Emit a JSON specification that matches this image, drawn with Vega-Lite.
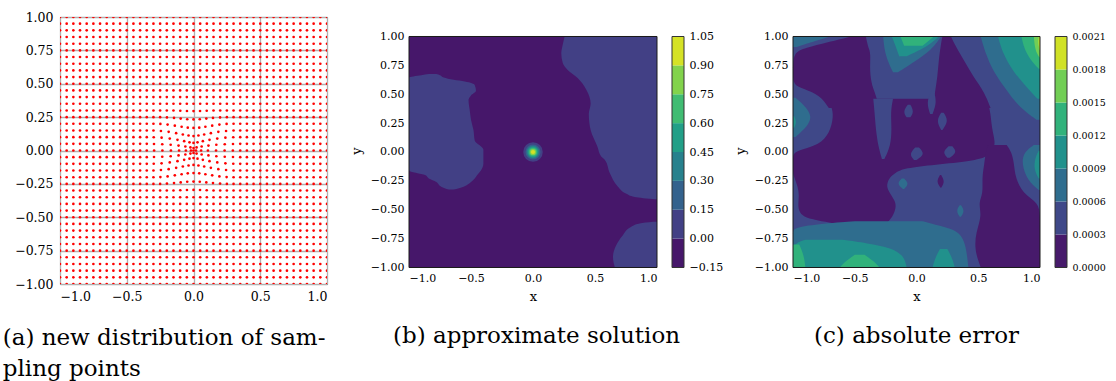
{
"$schema": "https://vega.github.io/schema/vega-lite/v6.json",
"background": "white",
"padding": {"left": 2, "top": 10, "right": 5, "bottom": 0},
"config": {
 "font": "DejaVu Serif",
 "view": {"stroke": "#1a1a1a", "strokeWidth": 1},
 "axis": {"labelFont": "DejaVu Serif", "titleFont": "DejaVu Serif", "labelColor": "#000", "titleColor": "#000", "titleFontWeight": "normal", "titleFontSize": 13, "labelFontSize": 11, "labelPadding": 5, "ticks": false, "domain": false, "grid": false},
 "title": {"font": "DejaVu Serif", "fontSize": 23, "fontWeight": "normal", "color": "#000"}
},
"spacing": 15, "bounds": "flush",
"resolve": {"scale": {"color": "independent"}},
"hconcat": [
 {
  "width": 267, "height": 267,
  "title": {"text": ["(a) new distribution of sam-", "pling points"], "orient": "bottom", "anchor": "start", "frame": "bounds", "dx": -12, "offset": 24, "lineHeight": 31},
  "encoding": {
   "x": {"field": "x", "type": "quantitative", "scale": {"domain": [-1, 1], "nice": false, "zero": false}, "axis": {"values": [-1, -0.5, 0, 0.5, 1], "format": ".1f", "title": null, "grid": true, "gridColor": "#b0b0b0", "gridWidth": 1.3, "labelFontSize": 12.5, "labelPadding": 6}},
   "y": {"field": "y", "type": "quantitative", "scale": {"domain": [-1, 1], "nice": false, "zero": false}, "axis": {"values": [-1, -0.75, -0.5, -0.25, 0, 0.25, 0.5, 0.75, 1], "format": ".2f", "title": null, "grid": true, "gridColor": "#b0b0b0", "gridWidth": 1.3, "labelFontSize": 12.5, "labelPadding": 7}}
  },
  "layer": [
   {
    "data": {"values": [
     {"y": -1, "x": [-1,-0.95,-0.9,-0.85,-0.8,-0.75,-0.7,-0.65,-0.6,-0.55,-0.5,-0.45,-0.4,-0.35,-0.3,-0.25,-0.2,-0.15,-0.1,-0.05,0,0.05,0.1,0.15,0.2,0.25,0.3,0.35,0.4,0.45,0.5,0.55,0.6,0.65,0.7,0.75,0.8,0.85,0.9,0.95,1]},
     {"y": -0.95, "x": [-1,-0.95,-0.9,-0.85,-0.8,-0.75,-0.7,-0.65,-0.6,-0.55,-0.5,-0.45,-0.4,-0.35,-0.3,-0.25,-0.2,-0.15,-0.1,-0.05,0,0.05,0.1,0.15,0.2,0.25,0.3,0.35,0.4,0.45,0.5,0.55,0.6,0.65,0.7,0.75,0.8,0.85,0.9,0.95,1]},
     {"y": -0.9, "x": [-1,-0.95,-0.9,-0.85,-0.8,-0.75,-0.7,-0.65,-0.6,-0.55,-0.5,-0.45,-0.4,-0.35,-0.3,-0.25,-0.2,-0.15,-0.1,-0.05,0,0.05,0.1,0.15,0.2,0.25,0.3,0.35,0.4,0.45,0.5,0.55,0.6,0.65,0.7,0.75,0.8,0.85,0.9,0.95,1]},
     {"y": -0.85, "x": [-1,-0.95,-0.9,-0.85,-0.8,-0.75,-0.7,-0.65,-0.6,-0.55,-0.5,-0.45,-0.4,-0.35,-0.3,-0.25,-0.2,-0.15,-0.1,-0.05,0,0.05,0.1,0.15,0.2,0.25,0.3,0.35,0.4,0.45,0.5,0.55,0.6,0.65,0.7,0.75,0.8,0.85,0.9,0.95,1]},
     {"y": -0.8, "x": [-1,-0.95,-0.9,-0.85,-0.8,-0.75,-0.7,-0.65,-0.6,-0.55,-0.5,-0.45,-0.4,-0.35,-0.3,-0.25,-0.2,-0.15,-0.1,-0.05,0,0.05,0.1,0.15,0.2,0.25,0.3,0.35,0.4,0.45,0.5,0.55,0.6,0.65,0.7,0.75,0.8,0.85,0.9,0.95,1]},
     {"y": -0.75, "x": [-1,-0.95,-0.9,-0.85,-0.8,-0.75,-0.7,-0.65,-0.6,-0.55,-0.5,-0.45,-0.4,-0.35,-0.3,-0.25,-0.2,-0.15,-0.1,-0.05,0,0.05,0.1,0.15,0.2,0.25,0.3,0.35,0.4,0.45,0.5,0.55,0.6,0.65,0.7,0.75,0.8,0.85,0.9,0.95,1]},
     {"y": -0.7, "x": [-1,-0.95,-0.9,-0.85,-0.8,-0.75,-0.7,-0.65,-0.6,-0.55,-0.5,-0.45,-0.4,-0.35,-0.3,-0.25,-0.2,-0.15,-0.1,-0.05,0,0.05,0.1,0.15,0.2,0.25,0.3,0.35,0.4,0.45,0.5,0.55,0.6,0.65,0.7,0.75,0.8,0.85,0.9,0.95,1]},
     {"y": -0.65, "x": [-1,-0.95,-0.9,-0.85,-0.8,-0.75,-0.7,-0.65,-0.6,-0.55,-0.5,-0.45,-0.4,-0.35,-0.3,-0.25,-0.2,-0.15,-0.1,-0.05,0,0.05,0.1,0.15,0.2,0.25,0.3,0.35,0.4,0.45,0.5,0.55,0.6,0.65,0.7,0.75,0.8,0.85,0.9,0.95,1]},
     {"y": -0.6, "x": [-1,-0.95,-0.9,-0.85,-0.8,-0.75,-0.7,-0.65,-0.6,-0.55,-0.5,-0.45,-0.4,-0.35,-0.3,-0.25,-0.2,-0.15,-0.1,-0.05,0,0.05,0.1,0.15,0.2,0.25,0.3,0.35,0.4,0.45,0.5,0.55,0.6,0.65,0.7,0.75,0.8,0.85,0.9,0.95,1]},
     {"y": -0.55, "x": [-1,-0.95,-0.9,-0.85,-0.8,-0.75,-0.7,-0.65,-0.6,-0.55,-0.5,-0.45,-0.4,-0.35,-0.3,-0.25,-0.2,-0.15,-0.1,-0.05,0,0.05,0.1,0.15,0.2,0.25,0.3,0.35,0.4,0.45,0.5,0.55,0.6,0.65,0.7,0.75,0.8,0.85,0.9,0.95,1]},
     {"y": -0.5, "x": [-1,-0.95,-0.9,-0.85,-0.8,-0.75,-0.7,-0.65,-0.6,-0.55,-0.5,-0.45,-0.4,-0.35,-0.3,-0.25,-0.2,-0.15,-0.1,-0.05,0,0.05,0.1,0.15,0.2,0.25,0.3,0.35,0.4,0.45,0.5,0.55,0.6,0.65,0.7,0.75,0.8,0.85,0.9,0.95,1]},
     {"y": -0.45, "x": [-1,-0.95,-0.9,-0.85,-0.8,-0.75,-0.7,-0.65,-0.6,-0.55,-0.5,-0.45,-0.4,-0.35,-0.3,-0.25,-0.2,-0.15,-0.1,-0.05,0,0.05,0.1,0.15,0.2,0.25,0.3,0.35,0.4,0.45,0.5,0.55,0.6,0.65,0.7,0.75,0.8,0.85,0.9,0.95,1]},
     {"y": -0.4, "x": [-1,-0.95,-0.9,-0.85,-0.8,-0.75,-0.7,-0.65,-0.6,-0.55,-0.5,-0.45,-0.4,-0.35,-0.3,-0.25,-0.2,-0.15,-0.1,-0.05,0,0.05,0.1,0.15,0.2,0.25,0.3,0.35,0.4,0.45,0.5,0.55,0.6,0.65,0.7,0.75,0.8,0.85,0.9,0.95,1]},
     {"y": -0.35, "x": [-1,-0.95,-0.9,-0.85,-0.8,-0.75,-0.7,-0.65,-0.6,-0.55,-0.5,-0.45,-0.4,-0.35,-0.3,-0.25,-0.2,-0.15,-0.1,-0.05,0,0.05,0.1,0.15,0.2,0.25,0.3,0.35,0.4,0.45,0.5,0.55,0.6,0.65,0.7,0.75,0.8,0.85,0.9,0.95,1]},
     {"y": -0.3, "x": [-1,-0.95,-0.9,-0.85,-0.8,-0.75,-0.7,-0.65,-0.6,-0.55,-0.5,-0.45,-0.4,-0.35,-0.3,-0.25,-0.2,0.2,0.25,0.3,0.35,0.4,0.45,0.5,0.55,0.6,0.65,0.7,0.75,0.8,0.85,0.9,0.95,1]},
     {"y": -0.25, "x": [-1,-0.95,-0.9,-0.85,-0.8,-0.75,-0.7,-0.65,-0.6,-0.55,-0.5,-0.45,-0.4,-0.35,-0.3,-0.25,0.25,0.3,0.35,0.4,0.45,0.5,0.55,0.6,0.65,0.7,0.75,0.8,0.85,0.9,0.95,1]},
     {"y": -0.2, "x": [-1,-0.95,-0.9,-0.85,-0.8,-0.75,-0.7,-0.65,-0.6,-0.55,-0.5,-0.45,-0.4,-0.35,-0.3,0.3,0.35,0.4,0.45,0.5,0.55,0.6,0.65,0.7,0.75,0.8,0.85,0.9,0.95,1]},
     {"y": -0.15, "x": [-1,-0.95,-0.9,-0.85,-0.8,-0.75,-0.7,-0.65,-0.6,-0.55,-0.5,-0.45,-0.4,-0.35,0.35,0.4,0.45,0.5,0.55,0.6,0.65,0.7,0.75,0.8,0.85,0.9,0.95,1]},
     {"y": -0.1, "x": [-1,-0.95,-0.9,-0.85,-0.8,-0.75,-0.7,-0.65,-0.6,-0.55,-0.5,-0.45,-0.4,-0.35,0.35,0.4,0.45,0.5,0.55,0.6,0.65,0.7,0.75,0.8,0.85,0.9,0.95,1]},
     {"y": -0.05, "x": [-1,-0.95,-0.9,-0.85,-0.8,-0.75,-0.7,-0.65,-0.6,-0.55,-0.5,-0.45,-0.4,-0.35,0.35,0.4,0.45,0.5,0.55,0.6,0.65,0.7,0.75,0.8,0.85,0.9,0.95,1]},
     {"y": 0, "x": [-1,-0.95,-0.9,-0.85,-0.8,-0.75,-0.7,-0.65,-0.6,-0.55,-0.5,-0.45,-0.4,-0.35,0.35,0.4,0.45,0.5,0.55,0.6,0.65,0.7,0.75,0.8,0.85,0.9,0.95,1]},
     {"y": 0.05, "x": [-1,-0.95,-0.9,-0.85,-0.8,-0.75,-0.7,-0.65,-0.6,-0.55,-0.5,-0.45,-0.4,-0.35,0.35,0.4,0.45,0.5,0.55,0.6,0.65,0.7,0.75,0.8,0.85,0.9,0.95,1]},
     {"y": 0.1, "x": [-1,-0.95,-0.9,-0.85,-0.8,-0.75,-0.7,-0.65,-0.6,-0.55,-0.5,-0.45,-0.4,-0.35,0.35,0.4,0.45,0.5,0.55,0.6,0.65,0.7,0.75,0.8,0.85,0.9,0.95,1]},
     {"y": 0.15, "x": [-1,-0.95,-0.9,-0.85,-0.8,-0.75,-0.7,-0.65,-0.6,-0.55,-0.5,-0.45,-0.4,-0.35,0.35,0.4,0.45,0.5,0.55,0.6,0.65,0.7,0.75,0.8,0.85,0.9,0.95,1]},
     {"y": 0.2, "x": [-1,-0.95,-0.9,-0.85,-0.8,-0.75,-0.7,-0.65,-0.6,-0.55,-0.5,-0.45,-0.4,-0.35,-0.3,0.3,0.35,0.4,0.45,0.5,0.55,0.6,0.65,0.7,0.75,0.8,0.85,0.9,0.95,1]},
     {"y": 0.25, "x": [-1,-0.95,-0.9,-0.85,-0.8,-0.75,-0.7,-0.65,-0.6,-0.55,-0.5,-0.45,-0.4,-0.35,-0.3,-0.25,0.25,0.3,0.35,0.4,0.45,0.5,0.55,0.6,0.65,0.7,0.75,0.8,0.85,0.9,0.95,1]},
     {"y": 0.3, "x": [-1,-0.95,-0.9,-0.85,-0.8,-0.75,-0.7,-0.65,-0.6,-0.55,-0.5,-0.45,-0.4,-0.35,-0.3,-0.25,-0.2,0.2,0.25,0.3,0.35,0.4,0.45,0.5,0.55,0.6,0.65,0.7,0.75,0.8,0.85,0.9,0.95,1]},
     {"y": 0.35, "x": [-1,-0.95,-0.9,-0.85,-0.8,-0.75,-0.7,-0.65,-0.6,-0.55,-0.5,-0.45,-0.4,-0.35,-0.3,-0.25,-0.2,-0.15,-0.1,-0.05,0,0.05,0.1,0.15,0.2,0.25,0.3,0.35,0.4,0.45,0.5,0.55,0.6,0.65,0.7,0.75,0.8,0.85,0.9,0.95,1]},
     {"y": 0.4, "x": [-1,-0.95,-0.9,-0.85,-0.8,-0.75,-0.7,-0.65,-0.6,-0.55,-0.5,-0.45,-0.4,-0.35,-0.3,-0.25,-0.2,-0.15,-0.1,-0.05,0,0.05,0.1,0.15,0.2,0.25,0.3,0.35,0.4,0.45,0.5,0.55,0.6,0.65,0.7,0.75,0.8,0.85,0.9,0.95,1]},
     {"y": 0.45, "x": [-1,-0.95,-0.9,-0.85,-0.8,-0.75,-0.7,-0.65,-0.6,-0.55,-0.5,-0.45,-0.4,-0.35,-0.3,-0.25,-0.2,-0.15,-0.1,-0.05,0,0.05,0.1,0.15,0.2,0.25,0.3,0.35,0.4,0.45,0.5,0.55,0.6,0.65,0.7,0.75,0.8,0.85,0.9,0.95,1]},
     {"y": 0.5, "x": [-1,-0.95,-0.9,-0.85,-0.8,-0.75,-0.7,-0.65,-0.6,-0.55,-0.5,-0.45,-0.4,-0.35,-0.3,-0.25,-0.2,-0.15,-0.1,-0.05,0,0.05,0.1,0.15,0.2,0.25,0.3,0.35,0.4,0.45,0.5,0.55,0.6,0.65,0.7,0.75,0.8,0.85,0.9,0.95,1]},
     {"y": 0.55, "x": [-1,-0.95,-0.9,-0.85,-0.8,-0.75,-0.7,-0.65,-0.6,-0.55,-0.5,-0.45,-0.4,-0.35,-0.3,-0.25,-0.2,-0.15,-0.1,-0.05,0,0.05,0.1,0.15,0.2,0.25,0.3,0.35,0.4,0.45,0.5,0.55,0.6,0.65,0.7,0.75,0.8,0.85,0.9,0.95,1]},
     {"y": 0.6, "x": [-1,-0.95,-0.9,-0.85,-0.8,-0.75,-0.7,-0.65,-0.6,-0.55,-0.5,-0.45,-0.4,-0.35,-0.3,-0.25,-0.2,-0.15,-0.1,-0.05,0,0.05,0.1,0.15,0.2,0.25,0.3,0.35,0.4,0.45,0.5,0.55,0.6,0.65,0.7,0.75,0.8,0.85,0.9,0.95,1]},
     {"y": 0.65, "x": [-1,-0.95,-0.9,-0.85,-0.8,-0.75,-0.7,-0.65,-0.6,-0.55,-0.5,-0.45,-0.4,-0.35,-0.3,-0.25,-0.2,-0.15,-0.1,-0.05,0,0.05,0.1,0.15,0.2,0.25,0.3,0.35,0.4,0.45,0.5,0.55,0.6,0.65,0.7,0.75,0.8,0.85,0.9,0.95,1]},
     {"y": 0.7, "x": [-1,-0.95,-0.9,-0.85,-0.8,-0.75,-0.7,-0.65,-0.6,-0.55,-0.5,-0.45,-0.4,-0.35,-0.3,-0.25,-0.2,-0.15,-0.1,-0.05,0,0.05,0.1,0.15,0.2,0.25,0.3,0.35,0.4,0.45,0.5,0.55,0.6,0.65,0.7,0.75,0.8,0.85,0.9,0.95,1]},
     {"y": 0.75, "x": [-1,-0.95,-0.9,-0.85,-0.8,-0.75,-0.7,-0.65,-0.6,-0.55,-0.5,-0.45,-0.4,-0.35,-0.3,-0.25,-0.2,-0.15,-0.1,-0.05,0,0.05,0.1,0.15,0.2,0.25,0.3,0.35,0.4,0.45,0.5,0.55,0.6,0.65,0.7,0.75,0.8,0.85,0.9,0.95,1]},
     {"y": 0.8, "x": [-1,-0.95,-0.9,-0.85,-0.8,-0.75,-0.7,-0.65,-0.6,-0.55,-0.5,-0.45,-0.4,-0.35,-0.3,-0.25,-0.2,-0.15,-0.1,-0.05,0,0.05,0.1,0.15,0.2,0.25,0.3,0.35,0.4,0.45,0.5,0.55,0.6,0.65,0.7,0.75,0.8,0.85,0.9,0.95,1]},
     {"y": 0.85, "x": [-1,-0.95,-0.9,-0.85,-0.8,-0.75,-0.7,-0.65,-0.6,-0.55,-0.5,-0.45,-0.4,-0.35,-0.3,-0.25,-0.2,-0.15,-0.1,-0.05,0,0.05,0.1,0.15,0.2,0.25,0.3,0.35,0.4,0.45,0.5,0.55,0.6,0.65,0.7,0.75,0.8,0.85,0.9,0.95,1]},
     {"y": 0.9, "x": [-1,-0.95,-0.9,-0.85,-0.8,-0.75,-0.7,-0.65,-0.6,-0.55,-0.5,-0.45,-0.4,-0.35,-0.3,-0.25,-0.2,-0.15,-0.1,-0.05,0,0.05,0.1,0.15,0.2,0.25,0.3,0.35,0.4,0.45,0.5,0.55,0.6,0.65,0.7,0.75,0.8,0.85,0.9,0.95,1]},
     {"y": 0.95, "x": [-1,-0.95,-0.9,-0.85,-0.8,-0.75,-0.7,-0.65,-0.6,-0.55,-0.5,-0.45,-0.4,-0.35,-0.3,-0.25,-0.2,-0.15,-0.1,-0.05,0,0.05,0.1,0.15,0.2,0.25,0.3,0.35,0.4,0.45,0.5,0.55,0.6,0.65,0.7,0.75,0.8,0.85,0.9,0.95,1]},
     {"y": 1, "x": [-1,-0.95,-0.9,-0.85,-0.8,-0.75,-0.7,-0.65,-0.6,-0.55,-0.5,-0.45,-0.4,-0.35,-0.3,-0.25,-0.2,-0.15,-0.1,-0.05,0,0.05,0.1,0.15,0.2,0.25,0.3,0.35,0.4,0.45,0.5,0.55,0.6,0.65,0.7,0.75,0.8,0.85,0.9,0.95,1]}
    ]},
    "transform": [{"flatten": ["x"]}],
    "mark": {"type": "circle", "size": 7, "color": "#ff0000", "opacity": 1, "clip": true}
   },
   {
    "data": {"values": [
     {"x": [-0.295,-0.233,-0.169,-0.108,-0.057,-0.019,0,0.019,0.057,0.108,0.169,0.233,0.295], "y": [0,0,0,0,0,0,0,0,0,0,0,0,0]},
     {"x": [-0.296,-0.234,-0.171,-0.112,-0.061,-0.023,0,0.023,0.061,0.112,0.171,0.234,0.296], "y": [0.049,0.047,0.043,0.037,0.03,0.023,0.019,0.023,0.03,0.037,0.043,0.047,0.049]},
     {"x": [-0.296,-0.234,-0.171,-0.112,-0.061,-0.023,0,0.023,0.061,0.112,0.171,0.234,0.296], "y": [-0.049,-0.047,-0.043,-0.037,-0.03,-0.023,-0.019,-0.023,-0.03,-0.037,-0.043,-0.047,-0.049]},
     {"x": [-0.298,-0.239,-0.178,-0.12,-0.07,-0.03,0,0.03,0.07,0.12,0.178,0.239,0.298], "y": [0.099,0.096,0.089,0.08,0.07,0.061,0.057,0.061,0.07,0.08,0.089,0.096,0.099]},
     {"x": [-0.298,-0.239,-0.178,-0.12,-0.07,-0.03,0,0.03,0.07,0.12,0.178,0.239,0.298], "y": [-0.099,-0.096,-0.089,-0.08,-0.07,-0.061,-0.057,-0.061,-0.07,-0.08,-0.089,-0.096,-0.099]},
     {"x": [-0.3,-0.244,-0.186,-0.13,-0.08,-0.037,0,0.037,0.08,0.13,0.186,0.244,0.3], "y": [0.15,0.146,0.14,0.13,0.12,0.112,0.108,0.112,0.12,0.13,0.14,0.146,0.15]},
     {"x": [-0.3,-0.244,-0.186,-0.13,-0.08,-0.037,0,0.037,0.08,0.13,0.186,0.244,0.3], "y": [-0.15,-0.146,-0.14,-0.13,-0.12,-0.112,-0.108,-0.112,-0.12,-0.13,-0.14,-0.146,-0.15]},
     {"x": [-0.248,-0.194,-0.14,-0.089,-0.043,0,0.043,0.089,0.14,0.194,0.248], "y": [0.199,0.194,0.186,0.178,0.171,0.169,0.171,0.178,0.186,0.194,0.199]},
     {"x": [-0.248,-0.194,-0.14,-0.089,-0.043,0,0.043,0.089,0.14,0.194,0.248], "y": [-0.199,-0.194,-0.186,-0.178,-0.171,-0.169,-0.171,-0.178,-0.186,-0.194,-0.199]},
     {"x": [-0.199,-0.146,-0.096,-0.047,0,0.047,0.096,0.146,0.199], "y": [0.248,0.244,0.239,0.234,0.233,0.234,0.239,0.244,0.248]},
     {"x": [-0.199,-0.146,-0.096,-0.047,0,0.047,0.096,0.146,0.199], "y": [-0.248,-0.244,-0.239,-0.234,-0.233,-0.234,-0.239,-0.244,-0.248]},
     {"x": [-0.15,-0.099,-0.049,0,0.049,0.099,0.15], "y": [0.3,0.298,0.296,0.295,0.296,0.298,0.3]},
     {"x": [-0.15,-0.099,-0.049,0,0.049,0.099,0.15], "y": [-0.3,-0.298,-0.296,-0.295,-0.296,-0.298,-0.3]}
    ]},
    "transform": [{"flatten": ["x", "y"]}],
    "mark": {"type": "circle", "size": 7, "color": "#ff0000", "opacity": 1, "clip": true}
   }
  ]
 },
 {"width": 52, "height": 1, "data": {"values": [{}]}, "mark": {"type": "point", "opacity": 0}, "encoding": {}, "view": {"stroke": null}},
 {
  "width": 248, "height": 267,
  "view": {"stroke": null},
  "title": {"text": "(b) approximate solution", "orient": "bottom", "anchor": "middle", "frame": "group", "dx": 3.5, "offset": 21.5},
  "encoding": {
   "x": {"field": "x", "type": "quantitative", "scale": {"domain": [-1, 1], "nice": false, "zero": false}, "axis": {"values": [-1, -0.5, 0, 0.5, 1], "format": ".1f", "title": "x", "titlePadding": 7, "offset": -16.5}},
   "y": {"field": "y", "type": "quantitative", "scale": {"domain": [-1.1429, 1.1688], "nice": false, "zero": false}, "axis": {"values": [-1, -0.75, -0.5, -0.25, 0, 0.25, 0.5, 0.75, 1], "format": ".2f", "title": "y", "titlePadding": 7}}
  },
  "layer": [
   {
    "data": {"values": [{"x": -1, "x2": 1, "y": -1, "y2": 1}]},
    "mark": {"type": "rect", "color": "#46176a"},
    "encoding": {"x2": {"field": "x2"}, "y2": {"field": "y2"}}
   },
   {
    "data": {"values": [
     {"r": "L", "y": -0.325, "x": -0.68, "x2": -0.64},
     {"r": "L", "y": -0.3, "x": -0.74, "x2": -0.56},
     {"r": "L", "y": -0.26, "x": -0.78, "x2": -0.5},
     {"r": "L", "y": -0.23, "x": -0.84, "x2": -0.47},
     {"r": "L", "y": -0.2, "x": -0.87, "x2": -0.45},
     {"r": "L", "y": -0.16, "x": -1, "x2": -0.42},
     {"r": "L", "y": -0.1, "x": -1, "x2": -0.4},
     {"r": "L", "y": 0.02, "x": -1, "x2": -0.4},
     {"r": "L", "y": 0.1, "x": -1, "x2": -0.47},
     {"r": "L", "y": 0.19, "x": -1, "x2": -0.48},
     {"r": "L", "y": 0.28, "x": -1, "x2": -0.5},
     {"r": "L", "y": 0.36, "x": -1, "x2": -0.51},
     {"r": "L", "y": 0.45, "x": -1, "x2": -0.52},
     {"r": "L", "y": 0.49, "x": -1, "x2": -0.5},
     {"r": "L", "y": 0.53, "x": -1, "x2": -0.46},
     {"r": "L", "y": 0.58, "x": -1, "x2": -0.47},
     {"r": "L", "y": 0.61, "x": -1, "x2": -0.55},
     {"r": "L", "y": 0.625, "x": -1, "x2": -0.64},
     {"r": "L", "y": 0.645, "x": -1, "x2": -0.72},
     {"r": "L", "y": 0.665, "x": -0.9, "x2": -0.75},
     {"r": "L", "y": 0.675, "x": -0.84, "x2": -0.78},
     {"r": "R", "y": -0.41, "x": 0.99, "x2": 1},
     {"r": "R", "y": -0.39, "x": 0.82, "x2": 1},
     {"r": "R", "y": -0.36, "x": 0.75, "x2": 1},
     {"r": "R", "y": -0.3, "x": 0.685, "x2": 1},
     {"r": "R", "y": -0.185, "x": 0.62, "x2": 1},
     {"r": "R", "y": -0.07, "x": 0.58, "x2": 1},
     {"r": "R", "y": -0.04, "x": 0.55, "x2": 1},
     {"r": "R", "y": 0.045, "x": 0.52, "x2": 1},
     {"r": "R", "y": 0.19, "x": 0.465, "x2": 1},
     {"r": "R", "y": 0.33, "x": 0.45, "x2": 1},
     {"r": "R", "y": 0.42, "x": 0.465, "x2": 1},
     {"r": "R", "y": 0.54, "x": 0.43, "x2": 1},
     {"r": "R", "y": 0.64, "x": 0.36, "x2": 1},
     {"r": "R", "y": 0.71, "x": 0.28, "x2": 1},
     {"r": "R", "y": 0.77, "x": 0.24, "x2": 1},
     {"r": "R", "y": 0.854, "x": 0.228, "x2": 1},
     {"r": "R", "y": 0.93, "x": 0.24, "x2": 1},
     {"r": "R", "y": 1, "x": 0.255, "x2": 1},
     {"r": "BR", "y": -1, "x": 0.66, "x2": 1},
     {"r": "BR", "y": -0.91, "x": 0.645, "x2": 1},
     {"r": "BR", "y": -0.81, "x": 0.67, "x2": 1},
     {"r": "BR", "y": -0.72, "x": 0.725, "x2": 1},
     {"r": "BR", "y": -0.65, "x": 0.79, "x2": 1},
     {"r": "BR", "y": -0.62, "x": 0.86, "x2": 1},
     {"r": "BR", "y": -0.605, "x": 0.97, "x2": 1}
    ]},
    "mark": {"type": "area", "orient": "horizontal", "interpolate": "monotone", "color": "#424085"},
    "encoding": {"x2": {"field": "x2"}, "detail": {"field": "r"}}
   },
   {
    "data": {"values": [{"x": 0, "y": 0}]},
    "layer": [
     {"mark": {"type": "circle", "size": 380, "color": "#424085", "opacity": 1}},
     {"mark": {"type": "circle", "size": 227, "color": "#34628d", "opacity": 1}},
     {"mark": {"type": "circle", "size": 154, "color": "#27818d", "opacity": 1}},
     {"mark": {"type": "circle", "size": 106, "color": "#229f87", "opacity": 1}},
     {"mark": {"type": "circle", "size": 66, "color": "#40bc72", "opacity": 1}},
     {"mark": {"type": "circle", "size": 38, "color": "#82d34c", "opacity": 1}},
     {"mark": {"type": "circle", "size": 17, "color": "#d5e226", "opacity": 1}}
    ]
   },
   {
    "data": {"values": [{"x": -1, "x2": 1, "y": -1, "y2": 1}]},
    "mark": {"type": "rect", "filled": false, "color": "#1a1a1a", "strokeWidth": 1},
    "encoding": {"x2": {"field": "x2"}, "y2": {"field": "y2"}}
   }
  ]
 },
 {
  "width": 12, "height": 267,
  "view": {"stroke": null},
  "encoding": {
   "y": {"field": "lo", "type": "quantitative", "scale": {"domain": [-0.2357, 1.1513], "nice": false, "zero": false}, "axis": {"orient": "right", "values": [-0.15, 0, 0.15, 0.3, 0.45, 0.6, 0.75, 0.9, 1.05], "format": ".2f", "title": null, "labelFontSize": 11}},
   "y2": {"field": "hi"}
  },
  "layer": [
   {
    "data": {"values": [
     {"lo": -0.15, "hi": 0}, {"lo": 0, "hi": 0.15}, {"lo": 0.15, "hi": 0.3}, {"lo": 0.3, "hi": 0.45},
     {"lo": 0.45, "hi": 0.6}, {"lo": 0.6, "hi": 0.75}, {"lo": 0.75, "hi": 0.9}, {"lo": 0.9, "hi": 1.05}
    ]},
    "mark": "rect",
    "encoding": {"color": {"field": "lo", "type": "quantitative", "scale": {"type": "threshold", "domain": [-0.075, 0.075, 0.225, 0.375, 0.525, 0.675, 0.825], "range": ["#46176a", "#424085", "#34628d", "#27818d", "#229f87", "#40bc72", "#82d34c", "#d5e226"]}, "legend": null}}
   },
   {
    "data": {"values": [{"lo": -0.15, "hi": 1.05}]},
    "mark": {"type": "rect", "filled": false, "color": "#333333", "strokeWidth": 1}
   }
  ]
 },
 {"width": 79, "height": 1, "data": {"values": [{}]}, "mark": {"type": "point", "opacity": 0}, "encoding": {}, "view": {"stroke": null}},
 {
  "width": 247, "height": 267,
  "view": {"stroke": null},
  "title": {"text": "(c) absolute error", "orient": "bottom", "anchor": "middle", "frame": "group", "dx": 0, "offset": 21.5},
  "encoding": {
   "x": {"field": "x", "type": "quantitative", "scale": {"domain": [-1, 1], "nice": false, "zero": false}, "axis": {"values": [-1, -0.5, 0, 0.5, 1], "format": ".1f", "title": "x", "titlePadding": 7, "offset": -16.5}},
   "y": {"field": "y", "type": "quantitative", "scale": {"domain": [-1.1429, 1.1688], "nice": false, "zero": false}, "axis": {"values": [-1, -0.75, -0.5, -0.25, 0, 0.25, 0.5, 0.75, 1], "format": ".2f", "title": "y", "titlePadding": 7}}
  },
  "layer": [
   {
    "data": {"values": [{"x": -1, "x2": 1, "y": -1, "y2": 1}]},
    "mark": {"type": "rect", "color": "#3f4888"},
    "encoding": {"x2": {"field": "x2"}, "y2": {"field": "y2"}}
   },
   {
    "data": {"values": [
     {"r": "AL", "y": -0.67, "x": -0.42, "x2": -0.32},
     {"r": "AL", "y": -0.63, "x": -0.6, "x2": -0.25},
     {"r": "AL", "y": -0.58, "x": -0.88, "x2": -0.21},
     {"r": "AL", "y": -0.53, "x": -0.95, "x2": -0.18},
     {"r": "AL", "y": -0.45, "x": -0.96, "x2": -0.16},
     {"r": "AL", "y": -0.38, "x": -0.95, "x2": -0.2},
     {"r": "AL", "y": -0.3, "x": -0.96, "x2": -0.25},
     {"r": "AL", "y": -0.22, "x": -0.99, "x2": -0.22},
     {"r": "AL", "y": -0.18, "x": -1, "x2": -0.17},
     {"r": "AL", "y": -0.14, "x": -1, "x2": -0.1},
     {"r": "AL", "y": -0.11, "x": -1, "x2": 0.15},
     {"r": "AL", "y": -0.08, "x": -1, "x2": 0.45},
     {"r": "AL", "y": -0.04, "x": -1, "x2": 0.58},
     {"r": "AL", "y": 0, "x": -0.99, "x2": 0.6},
     {"r": "AL", "y": 0.03, "x": -0.9, "x2": 0.62},
     {"r": "AL", "y": 0.08, "x": -0.76, "x2": 0.64},
     {"r": "AL", "y": 0.2, "x": -0.69, "x2": 0.61},
     {"r": "AL", "y": 0.34, "x": -0.67, "x2": 0.6},
     {"r": "AL", "y": 0.42, "x": -0.7, "x2": 0.58},
     {"r": "AL", "y": 0.46, "x": -0.74, "x2": 0.56},
     {"r": "AU", "y": 0.38, "x": -0.71, "x2": -0.3},
     {"r": "AU", "y": 0.49, "x": -0.78, "x2": -0.33},
     {"r": "AU", "y": 0.55, "x": -0.92, "x2": -0.35},
     {"r": "AU", "y": 0.58, "x": -1, "x2": -0.36},
     {"r": "AU", "y": 0.7, "x": -1, "x2": -0.38},
     {"r": "AU", "y": 0.86, "x": -1, "x2": -0.37},
     {"r": "AU", "y": 0.9, "x": -0.9, "x2": -0.39},
     {"r": "AU", "y": 0.95, "x": -0.72, "x2": -0.4},
     {"r": "AU", "y": 1, "x": -0.53, "x2": -0.41},
     {"r": "PU", "y": 0.38, "x": 0.13, "x2": 0.6},
     {"r": "PU", "y": 0.52, "x": 0.15, "x2": 0.55},
     {"r": "PU", "y": 0.65, "x": 0.17, "x2": 0.46},
     {"r": "PU", "y": 0.8, "x": 0.18, "x2": 0.38},
     {"r": "PU", "y": 0.95, "x": 0.2, "x2": 0.3},
     {"r": "PU", "y": 1, "x": 0.21, "x2": 0.28},
     {"r": "PR", "y": -1, "x": 0.52, "x2": 1},
     {"r": "PR", "y": -0.85, "x": 0.47, "x2": 1},
     {"r": "PR", "y": -0.7, "x": 0.48, "x2": 1},
     {"r": "PR", "y": -0.55, "x": 0.53, "x2": 1},
     {"r": "PR", "y": -0.44, "x": 0.5, "x2": 0.99},
     {"r": "PR", "y": -0.36, "x": 0.54, "x2": 0.86},
     {"r": "PR", "y": -0.22, "x": 0.53, "x2": 0.8},
     {"r": "PR", "y": -0.1, "x": 0.55, "x2": 0.79},
     {"r": "PR", "y": 0, "x": 0.56, "x2": 0.77},
     {"r": "PR", "y": 0.06, "x": 0.58, "x2": 0.73},
     {"r": "K1", "y": -0.31, "x": 0.195, "x2": 0.2},
     {"r": "K1", "y": -0.255, "x": 0.16, "x2": 0.23},
     {"r": "K1", "y": -0.2, "x": 0.19, "x2": 0.2}
    ]},
    "mark": {"type": "area", "orient": "horizontal", "interpolate": "basis", "color": "#471a6b"},
    "encoding": {"x2": {"field": "x2"}, "detail": {"field": "r"}}
   },
   {
    "data": {"values": [
     {"r": "T", "y": -0.06, "x": -0.28, "x2": -0.26},
     {"r": "T", "y": 0.05, "x": -0.31, "x2": -0.21},
     {"r": "T", "y": 0.2, "x": -0.33, "x2": -0.2},
     {"r": "T", "y": 0.35, "x": -0.34, "x2": -0.21},
     {"r": "T", "y": 0.46, "x": -0.35, "x2": -0.19},
     {"r": "I1", "y": 0.3, "x": -0.08, "x2": -0.05},
     {"r": "I1", "y": 0.35, "x": -0.11, "x2": -0.02},
     {"r": "I1", "y": 0.41, "x": -0.07, "x2": -0.05},
     {"r": "I2", "y": 0.33, "x": 0.11, "x2": 0.13},
     {"r": "I2", "y": 0.43, "x": 0.08, "x2": 0.165},
     {"r": "I2", "y": 0.53, "x": 0.12, "x2": 0.14},
     {"r": "I3", "y": 0.19, "x": 0.2, "x2": 0.21},
     {"r": "I3", "y": 0.27, "x": 0.16, "x2": 0.26},
     {"r": "I3", "y": 0.34, "x": 0.2, "x2": 0.22},
     {"r": "I4", "y": -0.05, "x": 0.25, "x2": 0.27},
     {"r": "I4", "y": 0.0, "x": 0.21, "x2": 0.33},
     {"r": "I4", "y": 0.05, "x": 0.26, "x2": 0.29},
     {"r": "I5", "y": -0.07, "x": -0.02, "x2": 0.0},
     {"r": "I5", "y": -0.02, "x": -0.06, "x2": 0.07},
     {"r": "I5", "y": 0.04, "x": -0.01, "x2": 0.02}
    ]},
    "mark": {"type": "area", "orient": "horizontal", "interpolate": "basis", "color": "#3f4888"},
    "encoding": {"x2": {"field": "x2"}, "detail": {"field": "r"}}
   },
   {
    "data": {"values": [
     {"r": "B", "y": -1, "x": -1, "x2": 0.42},
     {"r": "B", "y": -0.8, "x": -1, "x2": 0.4},
     {"r": "B", "y": -0.7, "x": -1, "x2": 0.35},
     {"r": "B", "y": -0.66, "x": -1, "x2": 0.27},
     {"r": "B", "y": -0.63, "x": -0.85, "x2": 0.15},
     {"r": "B", "y": -0.6, "x": -0.5, "x2": 0.05},
     {"r": "TL", "y": 0.91, "x": -1, "x2": -0.97},
     {"r": "TL", "y": 0.96, "x": -1, "x2": -0.82},
     {"r": "TL", "y": 1, "x": -1, "x2": -0.7},
     {"r": "LB", "y": 0.13, "x": -1, "x2": -0.98},
     {"r": "LB", "y": 0.3, "x": -1, "x2": -0.8},
     {"r": "LB", "y": 0.47, "x": -1, "x2": -0.98},
     {"r": "TC", "y": 0.69, "x": -0.19, "x2": -0.15},
     {"r": "TC", "y": 0.78, "x": -0.23, "x2": -0.02},
     {"r": "TC", "y": 0.88, "x": -0.26, "x2": 0.12},
     {"r": "TC", "y": 1, "x": -0.27, "x2": 0.2},
     {"r": "TR", "y": 0.28, "x": 0.97, "x2": 1},
     {"r": "TR", "y": 0.4, "x": 0.82, "x2": 1},
     {"r": "TR", "y": 0.55, "x": 0.72, "x2": 1},
     {"r": "TR", "y": 0.7, "x": 0.62, "x2": 1},
     {"r": "TR", "y": 0.85, "x": 0.56, "x2": 1},
     {"r": "TR", "y": 1, "x": 0.52, "x2": 1},
     {"r": "RE", "y": -0.33, "x": 0.99, "x2": 1},
     {"r": "RE", "y": -0.25, "x": 0.9, "x2": 1},
     {"r": "RE", "y": -0.1, "x": 0.85, "x2": 1},
     {"r": "RE", "y": 0, "x": 0.87, "x2": 1},
     {"r": "RE", "y": 0.06, "x": 0.95, "x2": 1},
     {"r": "J1", "y": -0.32, "x": -0.11, "x2": -0.1},
     {"r": "J1", "y": -0.275, "x": -0.16, "x2": -0.06},
     {"r": "J1", "y": -0.23, "x": -0.12, "x2": -0.1},
     {"r": "J2", "y": -0.56, "x": 0.35, "x2": 0.36},
     {"r": "J2", "y": -0.51, "x": 0.32, "x2": 0.39},
     {"r": "J2", "y": -0.46, "x": 0.35, "x2": 0.36}
    ]},
    "mark": {"type": "area", "orient": "horizontal", "interpolate": "basis", "color": "#2f6d8e"},
    "encoding": {"x2": {"field": "x2"}, "detail": {"field": "r"}}
   },
   {
    "data": {"values": [
     {"r": "B1", "y": -1, "x": -1, "x2": -0.08},
     {"r": "B1", "y": -0.9, "x": -1, "x2": -0.1},
     {"r": "B1", "y": -0.83, "x": -1, "x2": -0.2},
     {"r": "B1", "y": -0.79, "x": -0.98, "x2": -0.4},
     {"r": "B1", "y": -0.76, "x": -0.9, "x2": -0.6},
     {"r": "B2", "y": -1, "x": 0.13, "x2": 0.31},
     {"r": "B2", "y": -0.92, "x": 0.15, "x2": 0.29},
     {"r": "B2", "y": -0.84, "x": 0.19, "x2": 0.25},
     {"r": "LE", "y": 0.21, "x": -1, "x2": -0.99},
     {"r": "LE", "y": 0.26, "x": -1, "x2": -0.97},
     {"r": "LE", "y": 0.31, "x": -1, "x2": -0.99},
     {"r": "TC", "y": 0.83, "x": -0.14, "x2": -0.08},
     {"r": "TC", "y": 0.92, "x": -0.17, "x2": 0.1},
     {"r": "TC", "y": 1, "x": -0.2, "x2": 0.18},
     {"r": "TR", "y": 0.46, "x": 0.98, "x2": 1},
     {"r": "TR", "y": 0.55, "x": 0.9, "x2": 1},
     {"r": "TR", "y": 0.7, "x": 0.78, "x2": 1},
     {"r": "TR", "y": 0.85, "x": 0.7, "x2": 1},
     {"r": "TR", "y": 1, "x": 0.66, "x2": 1},
     {"r": "RE", "y": -0.23, "x": 0.99, "x2": 1},
     {"r": "RE", "y": -0.15, "x": 0.95, "x2": 1},
     {"r": "RE", "y": -0.05, "x": 0.96, "x2": 1},
     {"r": "RE", "y": 0.01, "x": 0.99, "x2": 1}
    ]},
    "mark": {"type": "area", "orient": "horizontal", "interpolate": "basis", "color": "#21918c"},
    "encoding": {"x2": {"field": "x2"}, "detail": {"field": "r"}}
   },
   {
    "data": {"values": [
     {"r": "BL", "y": -1, "x": -1, "x2": -0.9},
     {"r": "BL", "y": -0.9, "x": -1, "x2": -0.91},
     {"r": "BL", "y": -0.8, "x": -1, "x2": -0.95},
     {"r": "BM", "y": -1, "x": -0.62, "x2": -0.3},
     {"r": "BM", "y": -0.95, "x": -0.58, "x2": -0.34},
     {"r": "BM", "y": -0.89, "x": -0.5, "x2": -0.42},
     {"r": "TC", "y": 0.92, "x": -0.1, "x2": 0.05},
     {"r": "TC", "y": 1, "x": -0.13, "x2": 0.14},
     {"r": "TR", "y": 0.72, "x": 0.99, "x2": 1},
     {"r": "TR", "y": 0.8, "x": 0.92, "x2": 1},
     {"r": "TR", "y": 0.9, "x": 0.87, "x2": 1},
     {"r": "TR", "y": 1, "x": 0.85, "x2": 1}
    ]},
    "mark": {"type": "area", "orient": "horizontal", "interpolate": "basis", "color": "#31b27b"},
    "encoding": {"x2": {"field": "x2"}, "detail": {"field": "r"}}
   },
   {
    "data": {"values": [
     {"r": "TR", "y": 0.82, "x": 0.995, "x2": 1},
     {"r": "TR", "y": 0.88, "x": 0.96, "x2": 1},
     {"r": "TR", "y": 1, "x": 0.95, "x2": 1}
    ]},
    "mark": {"type": "area", "orient": "horizontal", "interpolate": "basis", "color": "#72ce55"},
    "encoding": {"x2": {"field": "x2"}, "detail": {"field": "r"}}
   },
   {
    "data": {"values": [
     {"r": "TR", "y": 0.88, "x": 0.998, "x2": 1},
     {"r": "TR", "y": 0.94, "x": 0.985, "x2": 1},
     {"r": "TR", "y": 1, "x": 0.99, "x2": 1}
    ]},
    "mark": {"type": "area", "orient": "horizontal", "interpolate": "basis", "color": "#d0e126"},
    "encoding": {"x2": {"field": "x2"}, "detail": {"field": "r"}}
   },
   {
    "data": {"values": [{"x": -1, "x2": 1, "y": -1, "y2": 1}]},
    "mark": {"type": "rect", "filled": false, "color": "#1a1a1a", "strokeWidth": 1},
    "encoding": {"x2": {"field": "x2"}, "y2": {"field": "y2"}}
   }
  ]
 },
 {
  "width": 12, "height": 267,
  "view": {"stroke": null},
  "encoding": {
   "y": {"field": "lo", "type": "quantitative", "scale": {"domain": [-0.00015, 0.0022773], "nice": false, "zero": false}, "axis": {"orient": "right", "values": [0, 0.0003, 0.0006, 0.0009, 0.0012, 0.0015, 0.0018, 0.0021], "format": ".4f", "title": null, "labelFontSize": 9.5}},
   "y2": {"field": "hi"}
  },
  "layer": [
   {
    "data": {"values": [
     {"lo": 0, "hi": 0.0003}, {"lo": 0.0003, "hi": 0.0006}, {"lo": 0.0006, "hi": 0.0009}, {"lo": 0.0009, "hi": 0.0012},
     {"lo": 0.0012, "hi": 0.0015}, {"lo": 0.0015, "hi": 0.0018}, {"lo": 0.0018, "hi": 0.0021}
    ]},
    "mark": "rect",
    "encoding": {"color": {"field": "lo", "type": "quantitative", "scale": {"type": "threshold", "domain": [0.00015, 0.00045, 0.00075, 0.00105, 0.00135, 0.00165], "range": ["#471a6b", "#3f4888", "#2f6d8e", "#21918c", "#31b27b", "#72ce55", "#d0e126"]}, "legend": null}}
   },
   {
    "data": {"values": [{"lo": 0, "hi": 0.0021}]},
    "mark": {"type": "rect", "filled": false, "color": "#333333", "strokeWidth": 1}
   }
  ]
 }
]
}
